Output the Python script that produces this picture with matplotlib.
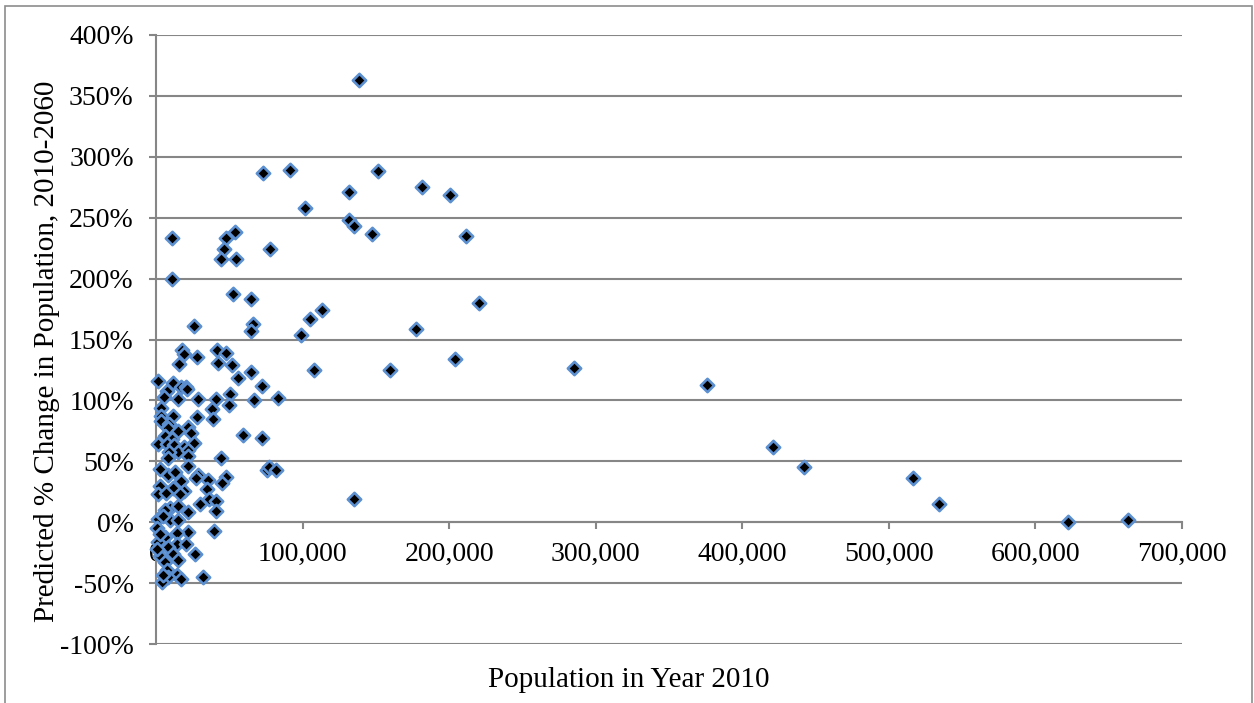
import matplotlib
matplotlib.use("Agg")
import matplotlib.pyplot as plt
from matplotlib.patches import Rectangle
from matplotlib.ticker import FuncFormatter, MultipleLocator

# Population in 2010 (x) and predicted % change 2010-2060 (y)
population_2010 = [
    138500, 72800, 91400, 151400, 131900, 181400, 200500, 101600, 131600, 135000,
    147500, 211700, 77500, 65000, 113200, 104800, 220300, 66400, 64800, 99100,
    177500, 65000, 108000, 159600, 203700, 72100, 67000, 83400, 72100, 75900,
    77100, 82100, 135300, 285100, 375800, 420900, 442000, 516300, 534100, 622000,
    663000,
    11100, 53900, 47500, 46400, 44500, 54600, 11100, 52500, 26100,
    17500, 19300, 15900, 28200, 41400, 47700, 42100, 52000, 56200, 1600,
    11800, 7700, 17100, 20300, 20900, 5700, 14800, 28400, 40700, 50700,
    50000, 3400, 37900, 59500,
    39100, 28200, 3400, 3400, 11800, 9100, 8000, 15200, 21600, 23900,
    6100, 10700, 1600, 7300, 12500, 26100, 19300, 15200, 21600, 9100,
    44300, 8400, 22000, 2700, 22000,
    8000, 28900, 27000, 13000, 17100, 35300, 47700, 45200, 2700, 11800,
    19300, 34600, 1600, 6800, 16400, 36400, 40900, 30000, 9600, 15200,
    21600, 40900, 6100, 1600, 9600, 14800,
    39800, 22000, 14100, 6100, 1600, 14100, 20500, 8400, 26600, 11800,
    2700, 14800, 6100, 7300, 32300, 14100, 17100, 8000, 3900, 5000,
    1000, 3000, 500, 4500,
]
pct_change = [
    363, 287, 289, 288, 271, 275, 269, 258, 248, 243,
    237, 235, 224, 183, 174, 167, 180, 163, 157, 154,
    159, 123, 125, 125, 134, 112, 100, 102, 69, 43,
    45, 43, 19, 127, 113, 62, 45, 36, 15, 0,
    2,
    233, 238, 233, 224, 216, 216, 200, 187, 161,
    141, 138, 130, 136, 141, 139, 131, 129, 118, 116,
    114, 108, 111, 111, 109, 103, 101, 101, 101, 105,
    96, 94, 93, 72,
    85, 86, 87, 83, 87, 81, 77, 75, 78, 73,
    71, 68, 64, 64, 63, 65, 62, 58, 59, 58,
    53, 53, 54, 44, 46,
    39, 39, 36, 41, 34, 35, 37, 32, 30, 28,
    26, 27, 23, 24, 23, 19, 17, 15, 12, 13,
    8, 9, 10, 3, 2, 2,
    -7, -8, -9, -12, -16, -18, -18, -20, -26, -26,
    -28, -31, -33, -39, -45, -43, -47, -45, -49, -43,
    -5, -10, -22, 5,
]

y_ticks = list(range(-100, 401, 50))
x_label = "Population in Year 2010"
y_label = "Predicted % Change in Population, 2010-2060"

plt.rcParams['font.family'] = ['Liberation Serif', 'DejaVu Serif']

W, H = 1254, 703
fig = plt.figure(figsize=(W / 100, H / 100), dpi=100)
fig.patches.append(Rectangle((5 / W, -0.01), (1252 - 5) / W, 1.01 - 6 / H,
                             transform=fig.transFigure, fill=False,
                             edgecolor='#8c8c8c', linewidth=1.2))

ax = fig.add_axes([156 / W, 1 - 644 / H, (1182 - 156) / W, (644 - 35) / H])
grid_c = '#868686'

ax.scatter(population_2010, pct_change, marker='D', s=46, facecolor='black',
           edgecolor='#5b8fd0', linewidth=1.9, zorder=3, clip_on=False)

ax.set_xlim(0, 700000)
ax.set_ylim(-100, 400)
ax.set_yticks(y_ticks)
ax.xaxis.set_major_locator(MultipleLocator(100000))
ax.yaxis.set_major_formatter(FuncFormatter(lambda v, p: f"{int(v)}%"))
ax.xaxis.set_major_formatter(FuncFormatter(lambda v, p: f"{int(v):,}"))

ax.grid(axis='y', color=grid_c, linewidth=1.5, zorder=0)
ax.set_axisbelow(True)
for s in ['top', 'right']:
    ax.spines[s].set_visible(False)
ax.spines['bottom'].set_position(('data', 0))
ax.spines['bottom'].set_color(grid_c)
ax.spines['bottom'].set_linewidth(1.5)
ax.spines['left'].set_color(grid_c)
ax.spines['left'].set_linewidth(1.5)

ax.tick_params(axis='both', direction='out', color=grid_c, width=1.5,
               length=5, labelsize=20, labelcolor='black')
ax.tick_params(axis='y', pad=11)
ax.tick_params(axis='x', pad=9)

ax.set_xlabel(x_label, fontsize=21)
ax.set_ylabel(y_label, fontsize=21)
ax.xaxis.set_label_coords(0.461, -0.038)
ax.yaxis.set_label_coords(-0.094, 0.48)

fig.savefig("out.png", dpi=100)
